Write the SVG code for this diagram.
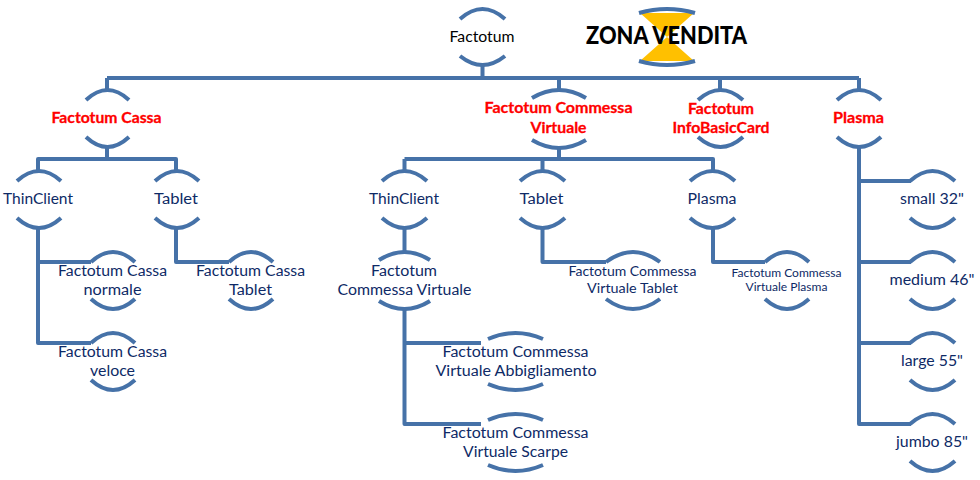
<svg xmlns="http://www.w3.org/2000/svg" width="980" height="480" viewBox="0 0 980 480">
<style>
text{font-family:Lato,"Open Sans","Liberation Sans",sans-serif;font-size:15.5px;text-anchor:middle;fill:#0e2a66}
.r{font-weight:700;fill:#ff0000;stroke:#ff0000;stroke-width:.3px}
.k{fill:#000000}
.s{font-size:14px}
.xs{font-size:12px}
.z{font-weight:900;font-size:24px;fill:#000000}
.a{fill:none;stroke:#4672a8;stroke-width:4}
#connectors path{fill:none;stroke:#4672a8;stroke-width:4;stroke-linejoin:round}
</style>
<rect width="980" height="480" fill="#ffffff"/>
<g id="connectors">
<path d="M107 78H859M482.500 64V78M107 78V89M559 78V89M720 78V89M859 78V89"/>
<path d="M107 148V159M38 170V159H176V170"/>
<path d="M38 228V343H91M38 262H91"/>
<path d="M176 228V262H229"/>
<path d="M404.500 159H713V170M404.500 170V159M542.500 159V170M559 148V159"/>
<path d="M404.500 228V252"/>
<path d="M404.500 309V424H481M404.500 343H481"/>
<path d="M542.500 228V262H606"/>
<path d="M713 228V262H765"/>
<path d="M859 148V424H911M859 181H911M859 262H911M859 343H911"/>
</g>
<g id="zona-vendita">
<polygon points="640,13 694,13 667,37 694,61 640,61 667,37" fill="#ffc000"/>
<path class="a" d="M639 13Q667 5 695 13M639 61Q667 69 695 61"/>
<text class="z" x="666.500" y="44" textLength="161" lengthAdjust="spacingAndGlyphs">ZONA VENDITA</text>
</g>
<g id="factotum">
<path class="a" d="M460 19Q482.500 -1 505 19M460 56Q482.500 74 505 56"/>
<text class="k" x="482" y="42" textLength="65" lengthAdjust="spacingAndGlyphs">Factotum</text>
</g>
<g id="factotum-cassa">
<path class="a" d="M86 100Q107.500 80 129 100M86 137Q107.500 157 129 137"/>
<text class="r" x="106.500" y="123" textLength="110" lengthAdjust="spacingAndGlyphs">Factotum Cassa</text>
</g>
<g id="factotum-commessa-virtuale">
<path class="a" d="M532 98Q559 82 586 98M532 140Q559 156 586 140"/>
<text class="r" x="558.500" y="113" textLength="148" lengthAdjust="spacingAndGlyphs">Factotum Commessa</text>
<text class="r" x="558.500" y="133" textLength="56" lengthAdjust="spacingAndGlyphs">Virtuale</text>
</g>
<g id="factotum-infobasiccard">
<path class="a" d="M698 100Q720.500 80 743 100M698 137Q720.500 157 743 137"/>
<text class="r" x="721" y="114" textLength="66" lengthAdjust="spacingAndGlyphs">Factotum</text>
<text class="r" x="721" y="133" textLength="97" lengthAdjust="spacingAndGlyphs">InfoBasicCard</text>
</g>
<g id="plasma">
<path class="a" d="M837 100Q859 80 881 100M837 137Q859 157 881 137"/>
<text class="r" x="858.500" y="123" textLength="51" lengthAdjust="spacingAndGlyphs">Plasma</text>
</g>
<g id="cassa-thinclient">
<path class="a" d="M17 181Q39 161 61 181M17 218Q39 238 61 218"/>
<text x="38" y="204" textLength="70" lengthAdjust="spacingAndGlyphs">ThinClient</text>
</g>
<g id="cassa-tablet">
<path class="a" d="M155 181Q177 161 199 181M155 218Q177 238 199 218"/>
<text x="176" y="204" textLength="44" lengthAdjust="spacingAndGlyphs">Tablet</text>
</g>
<g id="cassa-normale">
<path class="a" d="M91 262Q113 242 135 262M91 299Q113 319 135 299"/>
<text x="112.500" y="276" textLength="109" lengthAdjust="spacingAndGlyphs">Factotum Cassa</text>
<text x="112.500" y="295" textLength="58" lengthAdjust="spacingAndGlyphs">normale</text>
</g>
<g id="cassa-tablet-leaf">
<path class="a" d="M229 262Q251 242 273 262M229 299Q251 319 273 299"/>
<text x="250.500" y="276" textLength="109" lengthAdjust="spacingAndGlyphs">Factotum Cassa</text>
<text x="250.500" y="295" textLength="43" lengthAdjust="spacingAndGlyphs">Tablet</text>
</g>
<g id="cassa-veloce">
<path class="a" d="M91 343Q113 323 135 343M91 380Q113 400 135 380"/>
<text x="112.500" y="357" textLength="109" lengthAdjust="spacingAndGlyphs">Factotum Cassa</text>
<text x="112.500" y="376" textLength="45" lengthAdjust="spacingAndGlyphs">veloce</text>
</g>
<g id="fcv-thinclient">
<path class="a" d="M382 181Q404.500 161 427 181M382 218Q404.500 238 427 218"/>
<text x="404" y="204" textLength="70" lengthAdjust="spacingAndGlyphs">ThinClient</text>
</g>
<g id="fcv-tablet">
<path class="a" d="M520 181Q542.500 161 565 181M520 218Q542.500 238 565 218"/>
<text x="541.500" y="204" textLength="44" lengthAdjust="spacingAndGlyphs">Tablet</text>
</g>
<g id="fcv-plasma">
<path class="a" d="M690 181Q712.500 161 735 181M690 218Q712.500 238 735 218"/>
<text x="712" y="204" textLength="49" lengthAdjust="spacingAndGlyphs">Plasma</text>
</g>
<g id="fcv-commessa">
<path class="a" d="M379 260Q404.500 244 430 260M379 301Q404.500 317 430 301"/>
<text x="404" y="276" textLength="66" lengthAdjust="spacingAndGlyphs">Factotum</text>
<text x="404.500" y="295" textLength="134" lengthAdjust="spacingAndGlyphs">Commessa Virtuale</text>
</g>
<g id="fcv-virtuale-tablet">
<path class="a" d="M606 262Q633 242 660 262M606 299Q633 319 660 299"/>
<text class="s" x="632.500" y="276" textLength="128" lengthAdjust="spacingAndGlyphs">Factotum Commessa</text>
<text class="s" x="632.500" y="293" textLength="91" lengthAdjust="spacingAndGlyphs">Virtuale Tablet</text>
</g>
<g id="fcv-virtuale-plasma">
<path class="a" d="M765 262Q787 242 809 262M765 299Q787 319 809 299"/>
<text class="xs" x="786.500" y="277" textLength="110" lengthAdjust="spacingAndGlyphs">Factotum Commessa</text>
<text class="xs" x="786.500" y="291" textLength="82" lengthAdjust="spacingAndGlyphs">Virtuale Plasma</text>
</g>
<g id="fcv-abbigliamento">
<path class="a" d="M488 339Q515.500 327 543 339M488 384Q515.500 396 543 384"/>
<text x="515.500" y="357" textLength="146" lengthAdjust="spacingAndGlyphs">Factotum Commessa</text>
<text x="516" y="376" textLength="161" lengthAdjust="spacingAndGlyphs">Virtuale Abbigliamento</text>
</g>
<g id="fcv-scarpe">
<path class="a" d="M488 420Q515.500 408 543 420M488 465Q515.500 477 543 465"/>
<text x="515.500" y="438" textLength="146" lengthAdjust="spacingAndGlyphs">Factotum Commessa</text>
<text x="515.500" y="457" textLength="105" lengthAdjust="spacingAndGlyphs">Virtuale Scarpe</text>
</g>
<g id="small-32">
<path class="a" d="M910 181Q932.500 161 955 181M910 218Q932.500 238 955 218"/>
<text x="932" y="204" textLength="64" lengthAdjust="spacingAndGlyphs">small 32"</text>
</g>
<g id="medium-46">
<path class="a" d="M910 262Q932.500 242 955 262M910 299Q932.500 319 955 299"/>
<text x="932" y="285" textLength="85" lengthAdjust="spacingAndGlyphs">medium 46"</text>
</g>
<g id="large-55">
<path class="a" d="M910 343Q932.500 323 955 343M910 380Q932.500 400 955 380"/>
<text x="932" y="366" textLength="62" lengthAdjust="spacingAndGlyphs">large 55"</text>
</g>
<g id="jumbo-85">
<path class="a" d="M910 424Q932.500 404 955 424M910 461Q932.500 481 955 461"/>
<text x="932" y="447" textLength="72" lengthAdjust="spacingAndGlyphs">jumbo 85"</text>
</g>
</svg>
